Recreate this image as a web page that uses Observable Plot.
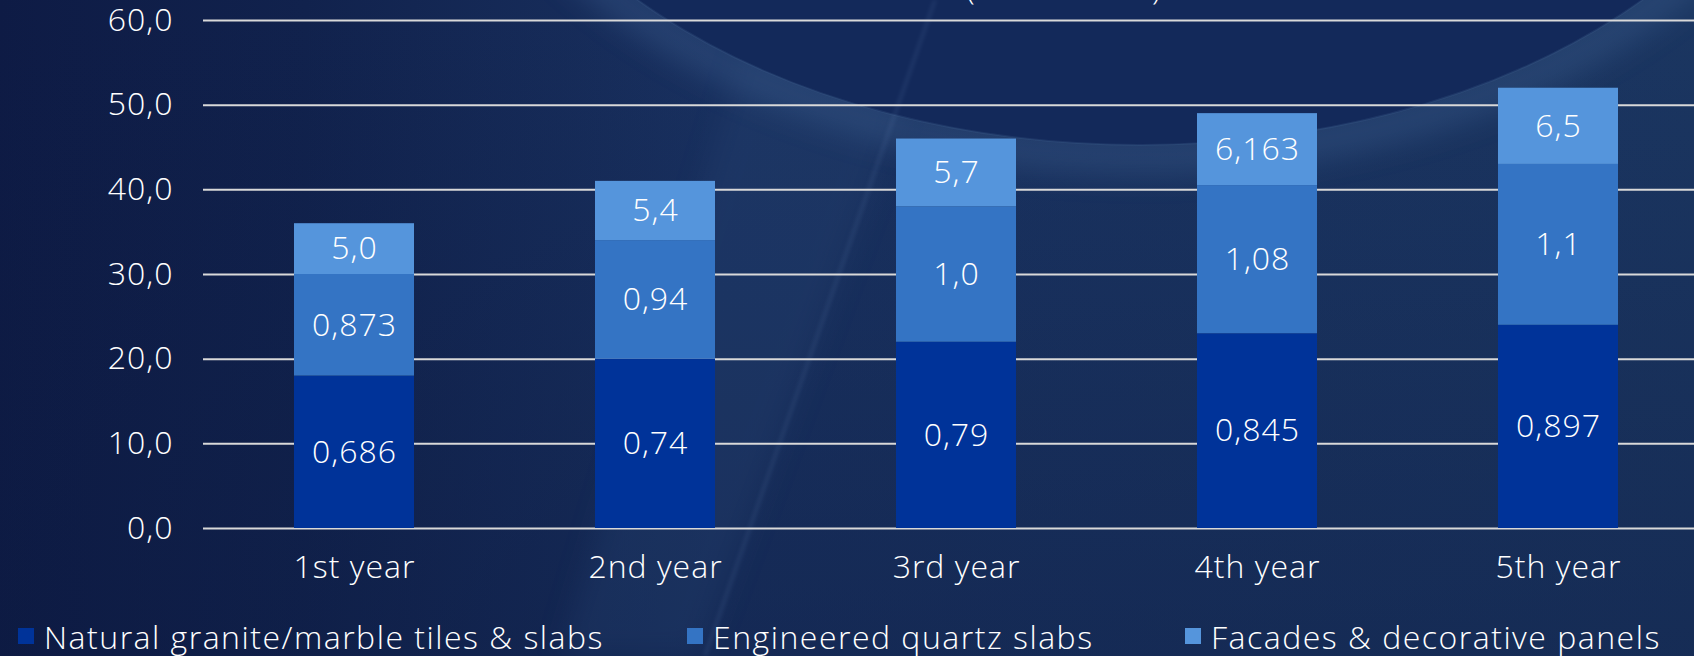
<!DOCTYPE html>
<html>
<head>
<meta charset="utf-8">
<script src="https://cdn.jsdelivr.net/npm/d3@7"></script>
<script src="https://cdn.jsdelivr.net/npm/@observablehq/plot@0.6"></script>
<style>
  html, body { margin: 0; padding: 0; width: 1694px; height: 656px; overflow: hidden; background: #13254f; }
  #bg, #chart, #title, #legend { position: absolute; left: 0; top: 0; }
  #chart svg { max-width: none !important; }
  #title { font-family: "Open Sans", sans-serif; font-weight: 300; font-size: 32px; color: #fff; width: 1694px; height: 40px; }
  #title span { position: absolute; top: -35px; }
  #legend { top: 617px; width: 1694px; height: 38px; font-family: "Open Sans", sans-serif; font-weight: 300; font-size: 32px; letter-spacing: 1.5px; color: #fff; }
  .item { position: absolute; top: 0; height: 38px; display: flex; align-items: center; white-space: nowrap; }
  .sw { width: 16px; height: 16px; margin-right: 10px; flex: none; }
</style>
</head>
<body>
<svg id="bg" width="1694" height="656">
  <defs>
    <linearGradient id="base" x1="0" x2="1" y1="0" y2="0">
      <stop offset="0" stop-color="#0e1b45"/>
      <stop offset="0.18" stop-color="#11224d"/>
      <stop offset="0.42" stop-color="#193160"/>
      <stop offset="1" stop-color="#1b3661"/>
    </linearGradient>
    <linearGradient id="shade" x1="0" x2="0" y1="0" y2="1">
      <stop offset="0" stop-color="#0c1a40" stop-opacity="0"/>
      <stop offset="1" stop-color="#0c1a40" stop-opacity="0.35"/>
    </linearGradient>
    <filter id="blur" x="-20%" y="-20%" width="140%" height="140%"><feGaussianBlur stdDeviation="14"/></filter>
    <filter id="blur2"><feGaussianBlur stdDeviation="2"/></filter>
  </defs>
  <rect width="1694" height="656" fill="url(#base)"/>
  <rect width="1694" height="656" fill="url(#shade)"/>
  <polygon points="940,0 700,656 560,656 760,0" fill="#2a4a78" opacity="0.25" filter="url(#blur)"/>
  <ellipse cx="1140" cy="-300" rx="690" ry="455" fill="none" stroke="#3a5c8c" stroke-width="40" opacity="0.4" filter="url(#blur)"/>
  <ellipse cx="1140" cy="-300" rx="680" ry="445" fill="#13295a"/>
  <ellipse cx="1140" cy="-300" rx="680" ry="445" fill="none" stroke="#4a6d9c" stroke-width="2" opacity="0.2"/>
  <line x1="935" y1="0" x2="705" y2="656" stroke="#6f8fbf" stroke-width="2" opacity="0.25" filter="url(#blur2)"/>
</svg>
<div id="title"><span style="left:966px">(</span><span style="left:1152px">)</span></div>
<div id="chart"></div>
<div id="legend"></div>
<script>
// ---- data ----
const years = ["1st year", "2nd year", "3rd year", "4th year", "5th year"];
const seriesNames = ["Natural granite/marble tiles & slabs", "Engineered quartz slabs", "Facades & decorative panels"];
const seriesColors = ["#003399", "#3474c4", "#5595dc"];

// segment heights as drawn
const naturalHeights = [18, 20, 22, 23, 24];
const quartzHeights = [12, 14, 16, 17.5, 19];
const facadeHeights = [6, 7, 8, 8.5, 9];

// printed labels
const naturalLabels = ["0,686", "0,74", "0,79", "0,845", "0,897"];
const quartzLabels = ["0,873", "0,94", "1,0", "1,08", "1,1"];
const facadeLabels = ["5,0", "5,4", "5,7", "6,163", "6,5"];

const yTicks = [0, 10, 20, 30, 40, 50, 60];
const legendX = [18, 687, 1185];

// ---- build table ----
const heights = [naturalHeights, quartzHeights, facadeHeights];
const labels = [naturalLabels, quartzLabels, facadeLabels];
const rows = [];
seriesNames.forEach((s, i) => {
  years.forEach((y, j) => rows.push({year: y, series: s, value: heights[i][j], label: labels[i][j]}));
});

const FONT = '"Open Sans", sans-serif';

const chart = Plot.plot({
  width: 1710,
  height: 600,
  marginLeft: 203,
  marginRight: 0,
  marginTop: 20,
  marginBottom: 72,
  style: {background: "transparent", color: "#ffffff", fontFamily: FONT, fontSize: "32px", fontWeight: 300, letterSpacing: "1px", overflow: "visible", maxWidth: "none"},
  x: {domain: years, paddingInner: 0.6, paddingOuter: 0.3, label: null},
  y: {domain: [0, 60], label: null},
  color: {domain: seriesNames, range: seriesColors},
  marks: [
    Plot.ruleY(yTicks, {stroke: "#d9d9d9", strokeWidth: 2}),
    Plot.barY(rows, Plot.stackY({x: "year", y: "value", fill: "series", order: seriesNames})),
    Plot.text(rows, Plot.stackY({x: "year", y: "value", z: "series", text: "label", fill: "#ffffff", fontSize: 32, order: seriesNames})),
    Plot.axisY({ticks: yTicks, tickSize: 0, tickPadding: 30, fontSize: 32, tickFormat: d => d.toFixed(1).replace(".", ","), label: null}),
    Plot.axisX({tickSize: 0, tickPadding: 27, fontSize: 32, label: null})
  ]
});
document.getElementById("chart").appendChild(chart);

// ---- legend ----
const legend = document.getElementById("legend");
seriesNames.forEach((s, i) => {
  const it = document.createElement("div");
  it.className = "item";
  it.style.left = legendX[i] + "px";
  const sw = document.createElement("div");
  sw.className = "sw";
  sw.style.background = seriesColors[i];
  const tx = document.createElement("span");
  tx.textContent = s;
  it.appendChild(sw);
  it.appendChild(tx);
  legend.appendChild(it);
});
</script>
</body>
</html>
